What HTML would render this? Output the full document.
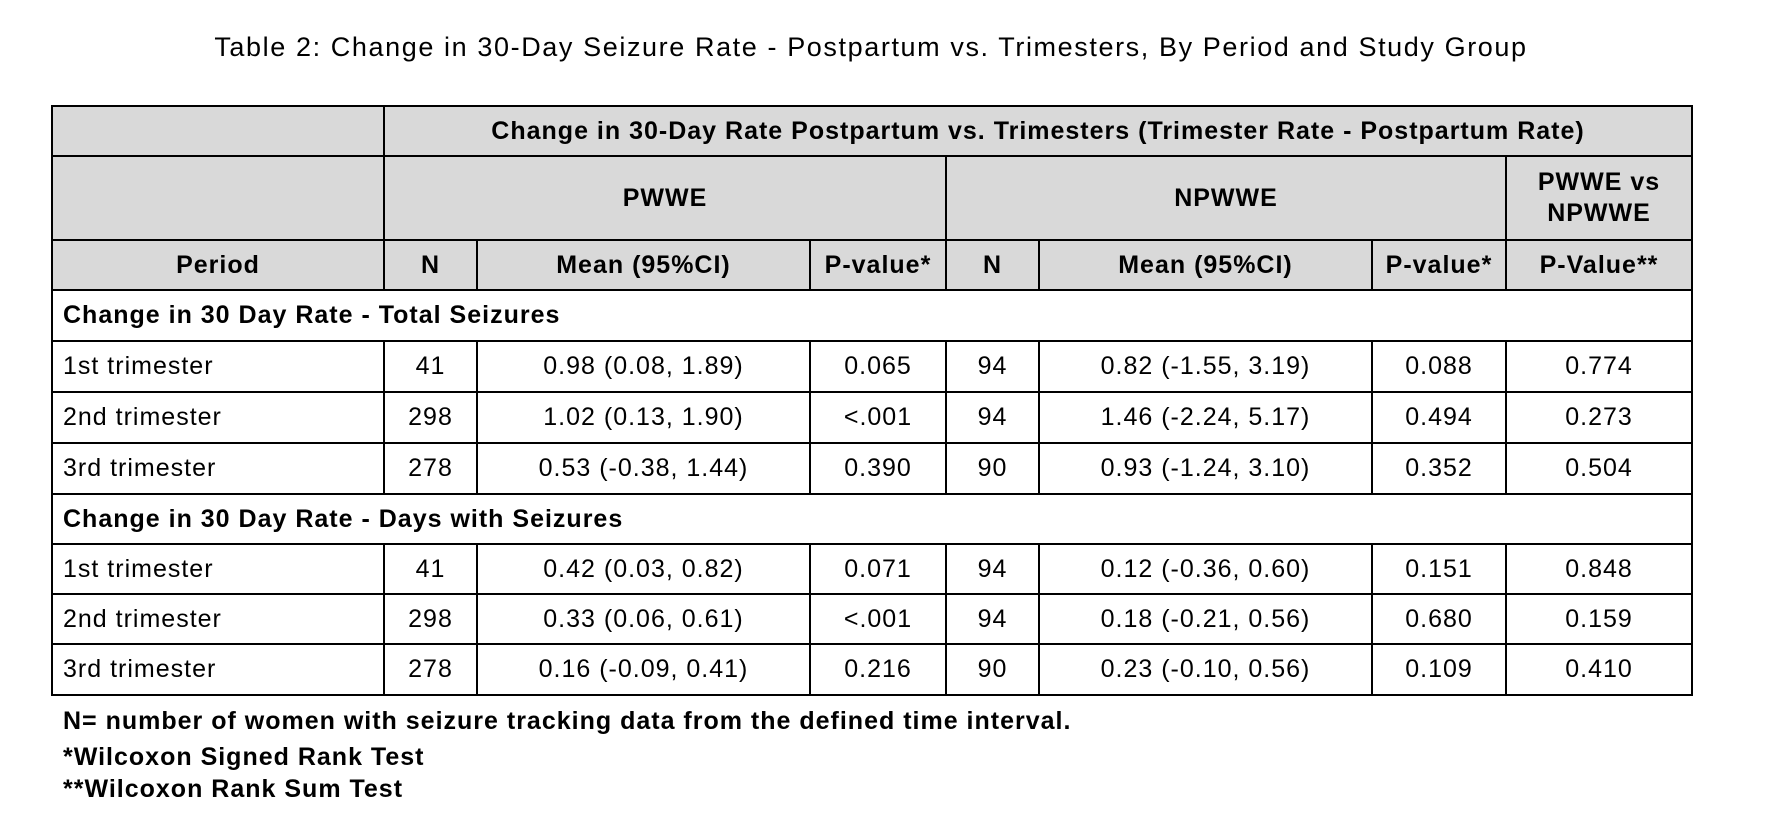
<!DOCTYPE html>
<html><head><meta charset="utf-8"><style>
body{margin:0;width:1791px;height:833px;background:#fff;position:relative;font-family:"Liberation Sans",Arial,sans-serif;color:#000;overflow:hidden}
.title{position:absolute;left:0;width:1742px;top:32px;text-align:center;font-size:27px;letter-spacing:1.6px}
table{position:absolute;left:51px;top:105px;border-collapse:collapse;table-layout:fixed;width:1640px}
td{border:2px solid #000;font-size:25px;text-align:center;padding:0;overflow:hidden;white-space:nowrap;letter-spacing:1px}
.h td{background:#d9d9d9;font-weight:bold}
.sec td{font-weight:bold;text-align:left;padding-left:10px}
td.l{text-align:left;padding-left:10px}
.foot{position:absolute;left:63px;font-size:25px;font-weight:bold;letter-spacing:1px}
</style></head><body>
<div class="title">Table 2: Change in 30-Day Seizure Rate - Postpartum vs. Trimesters, By Period and Study Group</div>
<table>
<colgroup><col style="width:332px"><col style="width:93px"><col style="width:333px"><col style="width:136px"><col style="width:93px"><col style="width:333px"><col style="width:134px"><col style="width:186px"></colgroup>
<tr class="h" style="height:50px"><td></td><td colspan="7">Change in 30-Day Rate Postpartum vs. Trimesters (Trimester Rate - Postpartum Rate)</td></tr>
<tr class="h" style="height:84px"><td></td><td colspan="3">PWWE</td><td colspan="3">NPWWE</td><td style="line-height:31px;white-space:normal">PWWE vs<br>NPWWE</td></tr>
<tr class="h" style="height:50px"><td>Period</td><td>N</td><td>Mean (95%CI)</td><td>P-value*</td><td>N</td><td>Mean (95%CI)</td><td>P-value*</td><td>P-Value**</td></tr>
<tr class="sec" style="height:51px"><td colspan="8">Change in 30 Day Rate - Total Seizures</td></tr>
<tr style="height:51px"><td class="l">1st trimester</td><td>41</td><td>0.98 (0.08, 1.89)</td><td>0.065</td><td>94</td><td>0.82 (-1.55, 3.19)</td><td>0.088</td><td>0.774</td></tr>
<tr style="height:51px"><td class="l">2nd trimester</td><td>298</td><td>1.02 (0.13, 1.90)</td><td>&lt;.001</td><td>94</td><td>1.46 (-2.24, 5.17)</td><td>0.494</td><td>0.273</td></tr>
<tr style="height:51px"><td class="l">3rd trimester</td><td>278</td><td>0.53 (-0.38, 1.44)</td><td>0.390</td><td>90</td><td>0.93 (-1.24, 3.10)</td><td>0.352</td><td>0.504</td></tr>
<tr class="sec" style="height:50px"><td colspan="8">Change in 30 Day Rate - Days with Seizures</td></tr>
<tr style="height:50px"><td class="l">1st trimester</td><td>41</td><td>0.42 (0.03, 0.82)</td><td>0.071</td><td>94</td><td>0.12 (-0.36, 0.60)</td><td>0.151</td><td>0.848</td></tr>
<tr style="height:50px"><td class="l">2nd trimester</td><td>298</td><td>0.33 (0.06, 0.61)</td><td>&lt;.001</td><td>94</td><td>0.18 (-0.21, 0.56)</td><td>0.680</td><td>0.159</td></tr>
<tr style="height:51px"><td class="l">3rd trimester</td><td>278</td><td>0.16 (-0.09, 0.41)</td><td>0.216</td><td>90</td><td>0.23 (-0.10, 0.56)</td><td>0.109</td><td>0.410</td></tr>
</table>
<div class="foot" style="top:707px">N= number of women with seizure tracking data from the defined time interval.</div>
<div class="foot" style="top:743px">*Wilcoxon Signed Rank Test</div>
<div class="foot" style="top:775px">**Wilcoxon Rank Sum Test</div>
</body></html>
